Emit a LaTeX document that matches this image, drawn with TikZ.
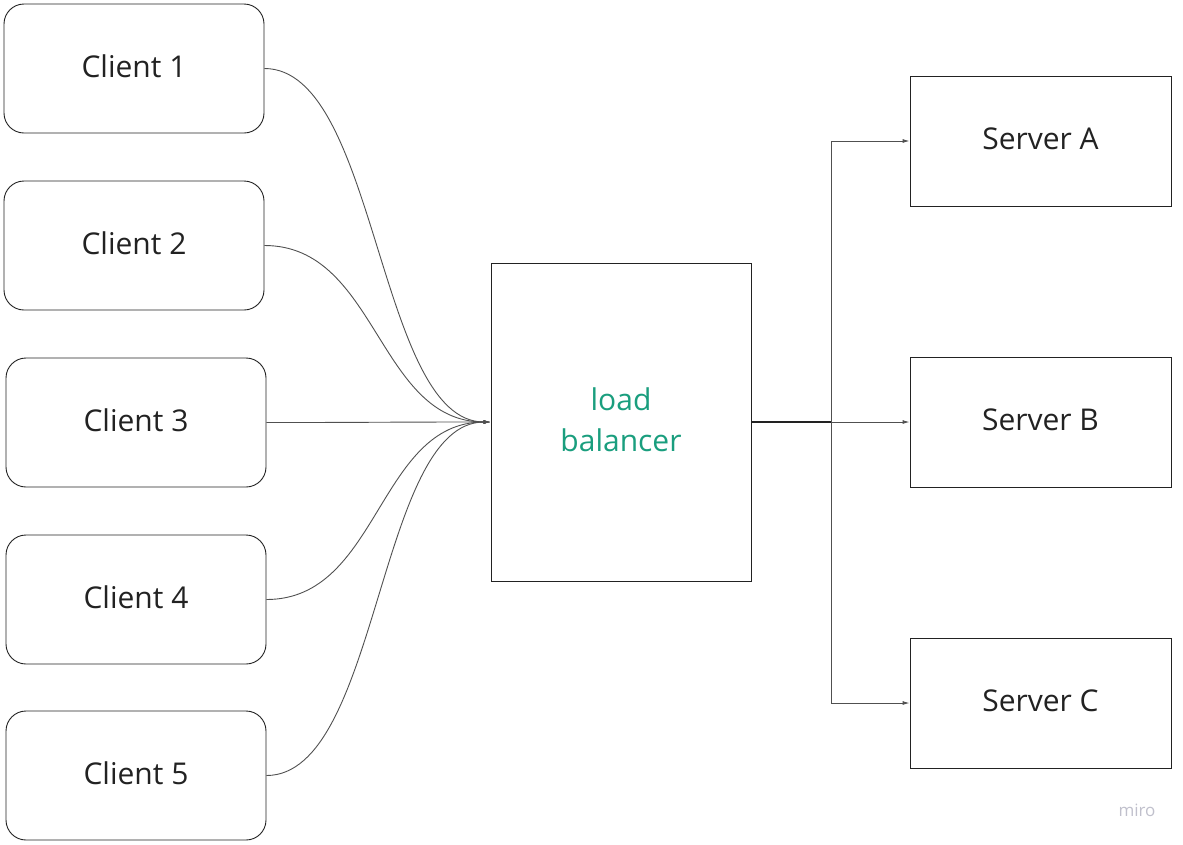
\documentclass[tikz,border=0pt]{standalone}
\usepackage{fontspec}
\setmainfont{Open Sans}
\usetikzlibrary{arrows.meta}
\definecolor{lbgreen}{RGB}{26,158,126}
\definecolor{txt}{RGB}{34,34,34}
\definecolor{wire}{RGB}{80,80,80}

\begin{document}
\begin{tikzpicture}[x=1pt, y=-1pt,
					every node/.style={font=\fontsize{30}{41}\selectfont, text=txt, text depth=4pt},
					client/.style={draw=txt, line width=0.9pt, rounded corners=20pt, minimum width=260pt, minimum height=129pt},
					server/.style={draw=txt, line width=0.9pt, minimum width=261pt, minimum height=130pt},
					link/.style={draw=wire, line width=0.9pt, -{Latex[length=7pt,width=4pt]}}]
\useasboundingbox (0,0) rectangle (1183,844);
% clients
\node[client] (c1) at (134,68.5) {Client 1};
\node[client] (c2) at (134,245.5) {Client 2};
\node[client] (c3) at (136,422.5) {Client 3};
\node[client] (c4) at (136,599.5) {Client 4};
\node[client] (c5) at (136,775.5) {Client 5};
% load balancer
\node[draw=txt, line width=0.9pt, minimum width=260pt, minimum height=318pt, align=center, text=lbgreen] (lb) at (621,422) {load\\balancer};
% servers
\node[server] (sA) at (1040.5,141) {Server A};
\node[server] (sB) at (1040.5,422) {Server B};
\node[server] (sC) at (1040.5,703) {Server C};
\coordinate (split) at (831,422);
% links
\foreach \c in {c1,c2,c3,c4,c5}
	\draw[link] (\c.east) .. controls +(113,0) and +(-113,0) .. (lb.west);
\draw[draw=txt, line width=1.1pt] (lb.east) -- (split);
\foreach \s in {sA,sB,sC}
	\draw[link] (split) |- (\s.west);
\node[font=\fontsize{17}{20}\selectfont, text depth=0pt, text={rgb,255:red,192;green,192;blue,204}] (miro) at (1137,810) {miro};
\end{tikzpicture}
\end{document}
